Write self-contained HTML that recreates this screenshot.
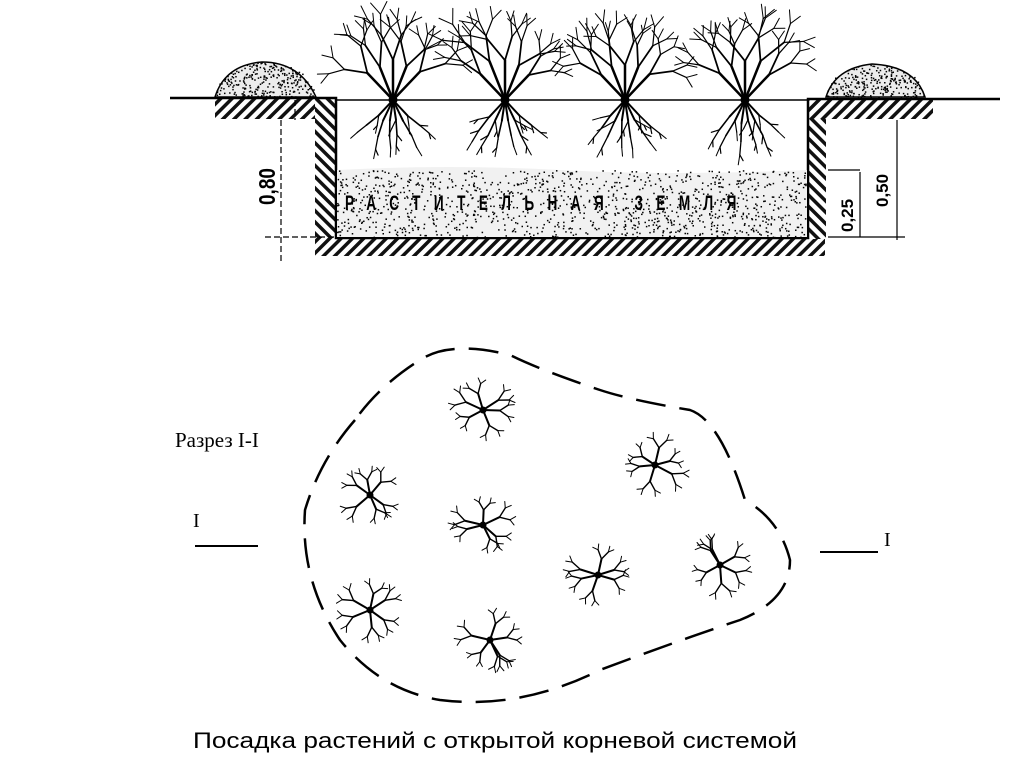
<!DOCTYPE html>
<html><head><meta charset="utf-8">
<style>
html,body{margin:0;padding:0;background:#fff;}
svg{display:block;}
</style></head>
<body>
<svg id="s" width="1024" height="767" viewBox="0 0 1024 767" xmlns="http://www.w3.org/2000/svg">
<defs>
<pattern id="h1" width="8" height="8" patternUnits="userSpaceOnUse" patternTransform="rotate(45)">
<rect width="8" height="8" fill="#fff"/><rect width="3.5" height="8" fill="#111"/>
</pattern>
<pattern id="h2" width="8" height="8" patternUnits="userSpaceOnUse" patternTransform="rotate(-45)">
<rect width="8" height="8" fill="#fff"/><rect width="3.5" height="8" fill="#111"/>
</pattern>
</defs>
<g id="top">
<rect x="215" y="99" width="120" height="20" fill="url(#h1)"/>
<rect x="315" y="99" width="21" height="140" fill="url(#h2)"/>
<rect x="315" y="238" width="510" height="18" fill="url(#h1)"/>
<rect x="808" y="99" width="18" height="140" fill="url(#h2)"/>
<rect x="808" y="99" width="125" height="20" fill="url(#h1)"/>
<path d="M170 98 H336 V238 H808 V99 H1000" fill="none" stroke="#000" stroke-width="2.5"/>
<path d="M336 100 H808" stroke="#000" stroke-width="1.5"/>
<path d="M337 170 Q450 164 560 170 T807 170 V237 H337Z" fill="#f1f1f1"/>
<path d="M215 97 Q225 65 262 62 Q300 62 316 97Z" fill="#ececec" stroke="#000" stroke-width="1.5"/>
<path d="M826 97 Q835 68 872 64 Q915 66 925 97Z" fill="#ececec" stroke="#000" stroke-width="1.5"/>
<g id="dots"></g>
<text transform="translate(345,210) scale(0.8,1.25)" font-family="Liberation Sans, DejaVu Sans, sans-serif" font-weight="bold" font-size="17" letter-spacing="16.8" fill="#000">РАСТИТЕЛЬНАЯ ЗЕМЛЯ</text>
<path d="M281 120 V262 M265 237 H336 M295 100 V120" stroke="#000" stroke-width="1.2" stroke-dasharray="6 3" fill="none"/>
<text transform="translate(275,205) rotate(-90) scale(1,1.2)" font-family="Liberation Sans, sans-serif" font-size="19" font-weight="bold">0,80</text>
<path d="M828 170 H860 M828 237 H905 M860 172 V237 M897 120 V240" stroke="#000" stroke-width="1.2" fill="none"/>
<text transform="translate(853,232) rotate(-90)" font-family="Liberation Sans, sans-serif" font-size="17" font-weight="bold">0,25</text>
<text transform="translate(888,207) rotate(-90)" font-family="Liberation Sans, sans-serif" font-size="17" font-weight="bold">0,50</text>
<g id="trees" stroke="#000" fill="none" stroke-linecap="round"></g>
</g>
<path d="M355 420 Q320 460 305 510 Q300 580 340 640 Q380 690 440 700 Q520 710 600 670 Q680 640 740 620 Q790 600 790 560 Q780 520 745 500 Q720 420 690 410 Q630 400 600 390 Q540 370 510 355 Q450 340 420 360 Q380 385 355 420Z" fill="none" stroke="#000" stroke-width="2.5" stroke-dasharray="30 14"/>
<g id="stars" stroke="#000" fill="none" stroke-linecap="round"></g>
<text x="175" y="447" font-family="Liberation Serif, serif" font-size="21">Разрез I-I</text>
<text x="193" y="527" font-family="Liberation Serif, serif" font-size="20">I</text>
<path d="M195 546 H258 M820 552 H878" stroke="#000" stroke-width="2"/>
<text x="884" y="546" font-family="Liberation Serif, serif" font-size="20">I</text>
<text x="495" y="748" text-anchor="middle" font-family="Liberation Sans, sans-serif" font-size="22" textLength="604" lengthAdjust="spacingAndGlyphs">Посадка растений с открытой корневой системой</text>
</svg>
<script>
var seed=7;function r(){seed=(seed*16807)%2147483647;return seed/2147483647;}
var NS="http://www.w3.org/2000/svg";
function line(g,x1,y1,x2,y2,w){var l=document.createElementNS(NS,"line");l.setAttribute("x1",x1);l.setAttribute("y1",y1);l.setAttribute("x2",x2);l.setAttribute("y2",y2);l.setAttribute("stroke-width",w);g.appendChild(l);}
var d=document.getElementById("dots");
function stip(x0,x1,ytop,yb,n,fn){for(var i=0;i<n;i++){var x=x0+r()*(x1-x0),y=ytop+r()*(yb-ytop);if(fn&&!fn(x,y))continue;var c=document.createElementNS(NS,"rect");c.setAttribute("x",x);c.setAttribute("y",y);c.setAttribute("width",1.5);c.setAttribute("height",1.5);d.appendChild(c);}}
stip(337,807,170,237,1200);
stip(215,316,62,97,350,function(x,y){var dx=(x-265)/50,dy=(y-97)/35;return dx*dx+dy*dy<1;});
stip(826,925,64,97,320,function(x,y){var dx=(x-875)/50,dy=(y-97)/33;return dx*dx+dy*dy<1;});
var t=document.getElementById("trees");
function br(g,x,y,a,len,w,depth,sp){var x2=x+Math.cos(a)*len,y2=y+Math.sin(a)*len;line(g,x,y,x2,y2,w);if(depth<=0)return;for(var i=0;i<2;i++){br(g,x2,y2,a+(r()-0.5)*0.5+(i?sp:-sp)*0.5,len*(0.6+r()*0.15),Math.max(1,w*0.7),depth-1,sp);}}
function br2(g,x,y,a,len,w,depth){var x2=x+Math.cos(a)*len,y2=y+Math.sin(a)*len;line(g,x,y,x2,y2,w);if(depth<=0)return;br2(g,x2,y2,a+(r()-0.5)*0.3,len*0.75,Math.max(1,w*0.8),depth-1);if(r()<0.6)br2(g,x2,y2,a+(r()<0.5?-0.6:0.6),len*0.5,1.2,depth-2);}
[393,505,625,745].forEach(function(cx){var by=100;
for(var k=0;k<5;k++){br(t,cx,by,-Math.PI/2+(k-2)*0.38,34+r()*8,2.5,3,0.9);}
for(var k=0;k<6;k++){var a=Math.PI/2+(k-2.5)*0.3;br2(t,cx,by,a,20+r()*4,2,3);}
var c=document.createElementNS(NS,"circle");c.setAttribute("cx",cx);c.setAttribute("cy",by);c.setAttribute("r",4);c.setAttribute("fill","#000");t.appendChild(c);});
var s=document.getElementById("stars");
function st(g,x,y,a,len,w,depth){var x2=x+Math.cos(a)*len,y2=y+Math.sin(a)*len;line(g,x,y,x2,y2,w);if(depth<=0)return;for(var i=0;i<2;i++){st(g,x2,y2,a+(i?0.6:-0.6)+(r()-0.5)*0.4,len*0.6,Math.max(1,w*0.7),depth-1);}}
[[483,410],[655,465],[370,495],[483,525],[598,575],[720,565],[370,610],[490,640]].forEach(function(p){
for(var k=0;k<6;k++){var a=k*2*Math.PI/6+r();st(s,p[0],p[1],a,15+r()*4,2,2);}
var c=document.createElementNS(NS,"circle");c.setAttribute("cx",p[0]);c.setAttribute("cy",p[1]);c.setAttribute("r",3);c.setAttribute("fill","#000");s.appendChild(c);});
</script>
</body></html>
